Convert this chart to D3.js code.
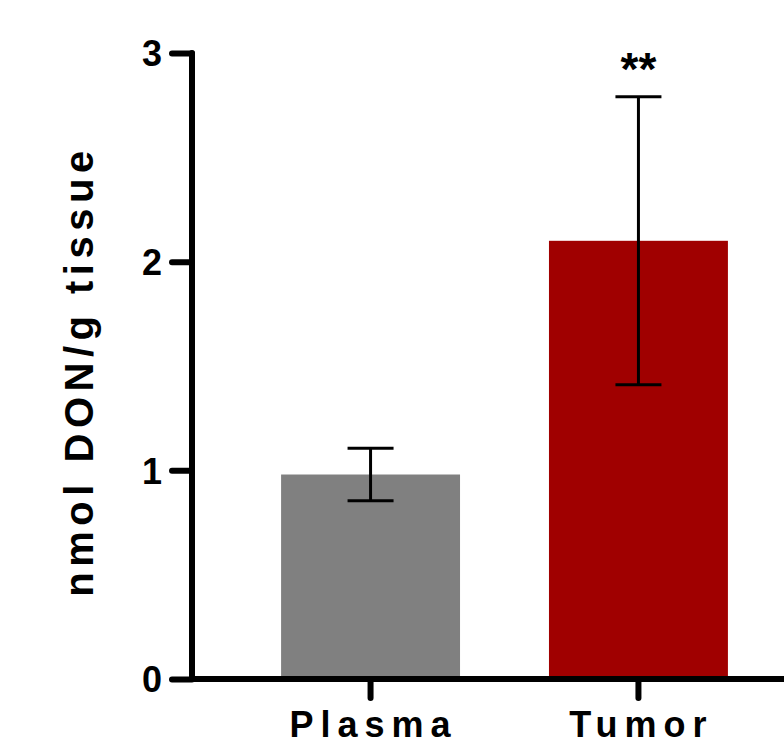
<!DOCTYPE html>
<html>
<head>
    <title>DON levels</title>
    <script src="https://d3js.org/d3.v7.min.js"></script>
    <style>
        body { margin: 0; background: #fff; }
        text { font-family: "Liberation Sans", Arial, sans-serif; font-weight: bold; fill: #000; }
    </style>
</head>
<body>
<script>
var groups = ["Plasma", "Tumor"];
var means = [0.98, 2.10];
var errors = [0.126, 0.69];
var colors = ["#808080", "#a00000"];
var marks = ["", "**"];
var yTicks = [0, 1, 2, 3];

var svg = d3.select("body").append("svg")
    .attr("width", 784)
    .attr("height", 745);

var x = d3.scaleBand()
    .domain(groups)
    .range([190, 819])
    .paddingInner(0.332)
    .paddingOuter(0.34);

var y = d3.scaleLinear()
    .domain([0, 3])
    .range([679, 53]);

// bars
svg.selectAll(".bar")
    .data(groups)
    .enter().append("rect")
      .attr("class", "bar")
      .attr("x", function(d) { return x(d); })
      .attr("y", function(d, i) { return y(means[i]); })
      .attr("width", x.bandwidth())
      .attr("height", function(d, i) { return y(0) - y(means[i]); })
      .style("fill", function(d, i) { return colors[i]; });

// error bars
var err = svg.selectAll(".err")
    .data(groups)
    .enter().append("g")
      .attr("class", "err")
      .attr("transform", function(d) { return "translate(" + (x(d) + x.bandwidth() / 2) + ",0)"; })
      .style("stroke", "#000")
      .style("stroke-width", 3);

err.append("line")
    .attr("y1", function(d, i) { return y(means[i] + errors[i]); })
    .attr("y2", function(d, i) { return y(means[i] - errors[i]); });
err.append("line")
    .attr("x1", -23).attr("x2", 23)
    .attr("y1", function(d, i) { return y(means[i] + errors[i]); })
    .attr("y2", function(d, i) { return y(means[i] + errors[i]); });
err.append("line")
    .attr("x1", -23).attr("x2", 23)
    .attr("y1", function(d, i) { return y(means[i] - errors[i]); })
    .attr("y2", function(d, i) { return y(means[i] - errors[i]); });

// significance stars
svg.selectAll(".star")
    .data(groups)
    .enter().append("text")
      .attr("class", "star")
      .attr("x", function(d) { return x(d) + x.bandwidth() / 2; })
      .attr("y", function(d, i) { return y(means[i] + errors[i]) - 12; })
      .attr("text-anchor", "middle")
      .style("font-size", "46px")
      .text(function(d, i) { return marks[i]; });

// y axis
var yAxis = svg.append("g")
    .attr("transform", "translate(192,0)")
    .call(d3.axisLeft(y).tickValues(yTicks).tickFormat(d3.format("d")).tickSize(20).tickPadding(10));
yAxis.select(".domain").remove();
yAxis.selectAll(".tick line").style("stroke-width", 6).style("stroke-linecap", "round");
yAxis.selectAll(".tick text").style("font-size", "36px").attr("dy", "0.36em");
yAxis.append("line")
    .attr("y1", y(3)).attr("y2", y(0))
    .style("stroke", "#000").style("stroke-width", 6).style("stroke-linecap", "round");

// x axis
var xAxis = svg.append("g")
    .attr("transform", "translate(0," + y(0) + ")")
    .call(d3.axisBottom(x).tickSize(19).tickPadding(13));
xAxis.select(".domain").remove();
xAxis.selectAll(".tick line").style("stroke-width", 6).style("stroke-linecap", "round");
xAxis.selectAll(".tick text")
    .style("font-size", "36px")
    .style("letter-spacing", "7px")
    .attr("dx", "3px");
xAxis.append("line")
    .attr("x1", 192).attr("x2", 819)
    .style("stroke", "#000").style("stroke-width", 6).style("stroke-linecap", "round");

// y label
svg.append("text")
    .attr("transform", "translate(93,371) rotate(-90)")
    .attr("text-anchor", "middle")
    .style("font-size", "40px")
    .style("letter-spacing", "5.5px")
    .text("nmol DON/g tissue");
</script>
</body>
</html>
